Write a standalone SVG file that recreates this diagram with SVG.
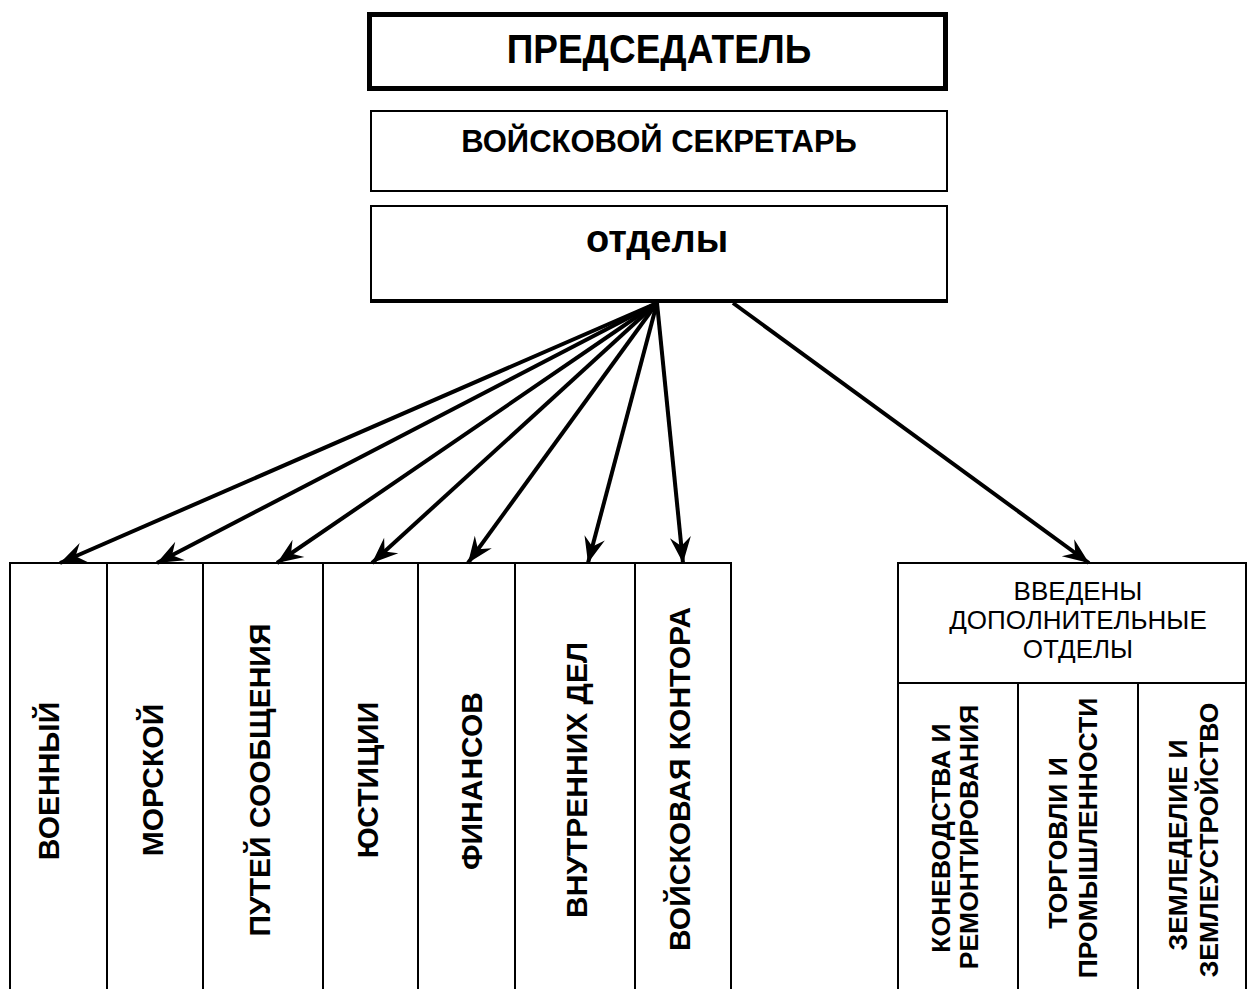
<svg xmlns="http://www.w3.org/2000/svg" width="1248" height="989" viewBox="0 0 1248 989">
<style>
.box{fill:#fff;stroke:#000;stroke-width:2}
.t{font-family:"Liberation Sans",Arial,sans-serif;font-weight:bold;fill:#000}
.r{font-family:"Liberation Sans",Arial,sans-serif;fill:#000}
.c{stroke:#000;stroke-width:4;fill:none;marker-end:url(#ah)}
.ln{stroke:#000;stroke-width:2;fill:none}
.v{font-size:30px;text-anchor:middle}
.w{font-size:26.5px;text-anchor:middle}
</style>
<defs>
<marker id="ah" markerUnits="userSpaceOnUse" markerWidth="30" markerHeight="24" refX="0" refY="0" viewBox="-27 -12 30 24" orient="auto">
<path d="M0,0 L-26,-10.5 L-17,0 L-26,10.5 Z" fill="#000"/>
</marker>
</defs>
<rect width="1248" height="989" fill="#fff"/>
<g id="chairman">
<rect x="369.5" y="14.5" width="576" height="74" fill="#fff" stroke="#000" stroke-width="5"/>
<text class="t" font-size="37" text-anchor="middle" transform="translate(659,63) scale(1,1.12)">ПРЕДСЕДАТЕЛЬ</text>
</g>
<g id="secretary">
<rect class="box" x="371" y="111" width="576" height="80"/>
<text class="t" x="659" y="152" font-size="31" text-anchor="middle">ВОЙСКОВОЙ СЕКРЕТАРЬ</text>
</g>
<g id="departments">
<rect class="box" x="371" y="206" width="576" height="94"/>
<line x1="370" y1="301" x2="948" y2="301" stroke="#000" stroke-width="4"/>
<text class="t" x="657" y="252" font-size="38" text-anchor="middle">отделы</text>
</g>
<g id="connectors">
<line class="c" x1="657" y1="303" x2="60" y2="563"/>
<line class="c" x1="657" y1="303" x2="157" y2="563"/>
<line class="c" x1="657" y1="303" x2="277" y2="563"/>
<line class="c" x1="657" y1="303" x2="372" y2="563"/>
<line class="c" x1="657" y1="303" x2="468" y2="563"/>
<line class="c" x1="657" y1="303" x2="588" y2="563"/>
<line class="c" x1="657" y1="303" x2="683" y2="563"/>
<line class="c" x1="733" y1="303" x2="1089" y2="563"/>
</g>
<g id="dept-table">
<path class="ln" d="M10,989 V563 H731 V989 M107,563 V989 M203,563 V989 M323,563 V989 M418,563 V989 M515,563 V989 M635,563 V989"/>
</g>
<g id="voenny"><text class="t v" transform="translate(59,781) rotate(-90)">ВОЕННЫЙ</text></g>
<g id="morskoy"><text class="t v" transform="translate(163,780) rotate(-90)">МОРСКОЙ</text></g>
<g id="putey"><text class="t v" transform="translate(270,780) rotate(-90)">ПУТЕЙ СООБЩЕНИЯ</text></g>
<g id="justice"><text class="t v" transform="translate(378,780) rotate(-90)">ЮСТИЦИИ</text></g>
<g id="finance"><text class="t v" transform="translate(482,781) rotate(-90)">ФИНАНСОВ</text></g>
<g id="internal"><text class="t v" transform="translate(587,780) rotate(-90)">ВНУТРЕННИХ ДЕЛ</text></g>
<g id="kontora"><text class="t v" transform="translate(690,779) rotate(-90)">ВОЙСКОВАЯ КОНТОРА</text></g>
<g id="extra">
<path class="ln" d="M898,989 V563 H1246 V989 M898,683 H1246 M1018,683 V989 M1138,683 V989"/>
<text class="r" font-size="26" text-anchor="middle" x="1078" y="600">ВВЕДЕНЫ</text>
<text class="r" font-size="26" text-anchor="middle" x="1078" y="629">ДОПОЛНИТЕЛЬНЫЕ</text>
<text class="r" font-size="26" text-anchor="middle" x="1078" y="658">ОТДЕЛЫ</text>
</g>
<g id="konevodstvo">
<text class="t w" transform="translate(950,838) rotate(-90)">КОНЕВОДСТВА И</text>
<text class="t w" transform="translate(978,837) rotate(-90)">РЕМОНТИРОВАНИЯ</text>
</g>
<g id="torgovlya">
<text class="t w" transform="translate(1067,843) rotate(-90)">ТОРГОВЛИ И</text>
<text class="t w" transform="translate(1097,838) rotate(-90)">ПРОМЫШЛЕННОСТИ</text>
</g>
<g id="zemledelie">
<text class="t w" transform="translate(1187,845) rotate(-90)">ЗЕМЛЕДЕЛИЕ И</text>
<text class="t w" transform="translate(1218,840) rotate(-90)">ЗЕМЛЕУСТРОЙСТВО</text>
</g>
</svg>
